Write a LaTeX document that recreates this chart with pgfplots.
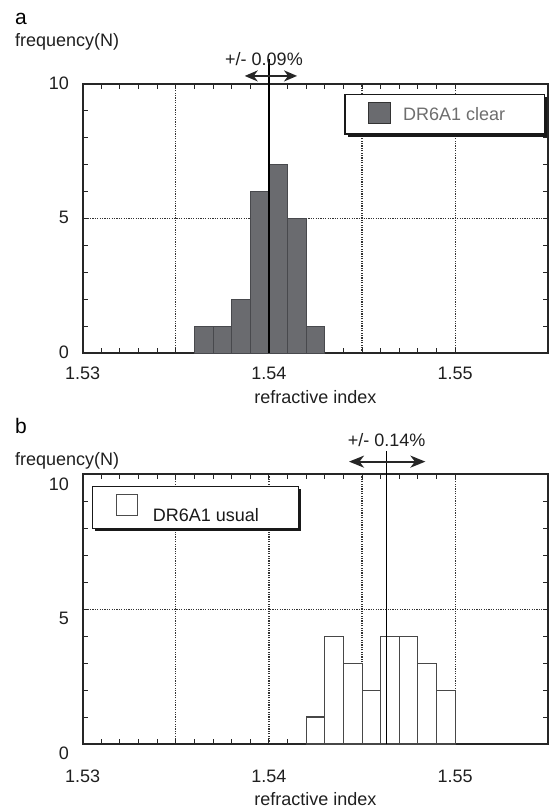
\documentclass[border=0pt]{standalone}
\usepackage{pgfplots}
\pgfplotsset{compat=1.18}
\usepackage{fontspec}
\setmainfont{Liberation Sans}
\usetikzlibrary{arrows.meta}
\definecolor{barA}{HTML}{6A6B6F}
\definecolor{barAedge}{HTML}{48494D}
\definecolor{legtxt}{HTML}{6E6E6E}
\pgfplotsset{
  histo/.style={
    scale only axis,
    anchor=south west,
    width=465.6pt,
    xmin=1.53, xmax=1.555,
    ymin=0, ymax=10,
    xtick={1.53,1.535,1.54,1.545,1.55},
    xticklabels={1.53,,1.54,,1.55},
    ytick={0,5,10},
    yticklabels={0,5,10},
    minor x tick num=4,
    minor y tick num=4,
    tick align=inside,
    major tick length=5pt,
    minor tick length=5pt,
    every tick/.style={line width=1pt, black!85},
    xmajorgrids, ymajorgrids,
    major grid style={dash pattern=on 1.3pt off 1.1pt, line width=1.2pt, black!80},
    axis line style={line width=2pt, black!85},
    clip=false,
    /pgf/number format/assume math mode=true,
    tick label style={font=\fontsize{18}{21}\selectfont, text=black!88},
  }
}
\begin{document}
\fontsize{18}{21}\selectfont
\begin{tikzpicture}
\useasboundingbox (0,0) rectangle (554pt,-809pt);
% ---------------- panel a ----------------
\begin{axis}[histo,
  at={(82.7pt,-353pt)}, height=269pt,
  xticklabel style={anchor=base, inner sep=0pt, yshift=-26pt},
  yticklabel style={anchor=east, inner sep=0pt, xshift=-13.7pt, yshift=1pt},
]
\addplot[ybar, bar width=0.001, fill=barA, draw=barAedge, line width=0.8pt]
  coordinates {(1.5365,1) (1.5375,1) (1.5385,2) (1.5395,6) (1.5405,7) (1.5415,5) (1.5425,1)};
\addplot[black, line width=1.8pt] coordinates {(1.54,0) (1.54,10.93)};
\addplot[black!85, line width=2pt,
  {Stealth[length=13pt,width=11pt,inset=4pt]}-{Stealth[length=13pt,width=11pt,inset=4pt]}]
  coordinates {(1.5387,10.30) (1.54151,10.30)};
\end{axis}
% legend a
\fill[black!90] (347.5pt,-96.8pt) rectangle (547.2pt,-136.5pt);
\draw[draw=black!90, fill=white, line width=1.1pt] (345pt,-94.3pt) rectangle (544.7pt,-134pt);
\draw[fill=barA, draw=black!80, line width=1pt] (368pt,-102.7pt) rectangle (390pt,-123.3pt);
\node[anchor=base west, inner sep=0pt, text=legtxt] at (403pt,-120.3pt) {DR6A1 clear};
% texts a
\node[anchor=base west, inner sep=0pt, font=\fontsize{21}{24}\selectfont] at (15pt,-24pt) {a};
\node[anchor=base west, inner sep=0pt, text=black!88] at (15pt,-46.5pt) {frequency(N)};
\node[anchor=base, inner sep=0pt, text=black!88] at (264pt,-65pt) {+/- 0.09\%};
\node[anchor=base, inner sep=0pt, text=black!88] at (315.5pt,-403pt) {refractive index};
% ---------------- panel b ----------------
\begin{axis}[histo,
  at={(82.7pt,-744pt)}, height=269.7pt,
  xticklabel style={anchor=base, inner sep=0pt, yshift=-38pt},
  yticklabel style={anchor=east, inner sep=0pt, xshift=-13.7pt, yshift=-9.5pt},
]
\addplot[ybar, bar width=0.001, fill=white, draw=black!72, line width=1.1pt]
  coordinates {(1.5425,1) (1.5435,4) (1.5445,3) (1.5455,2) (1.5465,4) (1.5475,4) (1.5485,3) (1.5495,2)};
\addplot[black, line width=1.5pt] coordinates {(1.5463,0) (1.5463,10.88)};
\addplot[black!85, line width=2pt,
  {Stealth[length=15pt,width=12pt,inset=4.5pt]}-{Stealth[length=15pt,width=12pt,inset=4.5pt]}]
  coordinates {(1.5443,10.47) (1.5484,10.47)};
\end{axis}
% legend b
\fill[black!90] (94.8pt,-489.2pt) rectangle (300.8pt,-530.8pt);
\draw[draw=black!90, fill=white, line width=1.1pt] (92.3pt,-486.7pt) rectangle (298.3pt,-528.3pt);
\draw[fill=white, draw=black!70, line width=1pt] (116pt,-494.3pt) rectangle (137.3pt,-515pt);
\node[anchor=base west, inner sep=0pt, text=black!90] at (152.7pt,-521.7pt) {DR6A1 usual};
% texts b
\node[anchor=base west, inner sep=0pt, font=\fontsize{21}{24}\selectfont] at (15pt,-433pt) {b};
\node[anchor=base west, inner sep=0pt, text=black!88] at (15pt,-465pt) {frequency(N)};
\node[anchor=base, inner sep=0pt, text=black!88] at (386.7pt,-446pt) {+/- 0.14\%};
\node[anchor=base, inner sep=0pt, text=black!88] at (315.5pt,-805pt) {refractive index};
\end{tikzpicture}
\end{document}
